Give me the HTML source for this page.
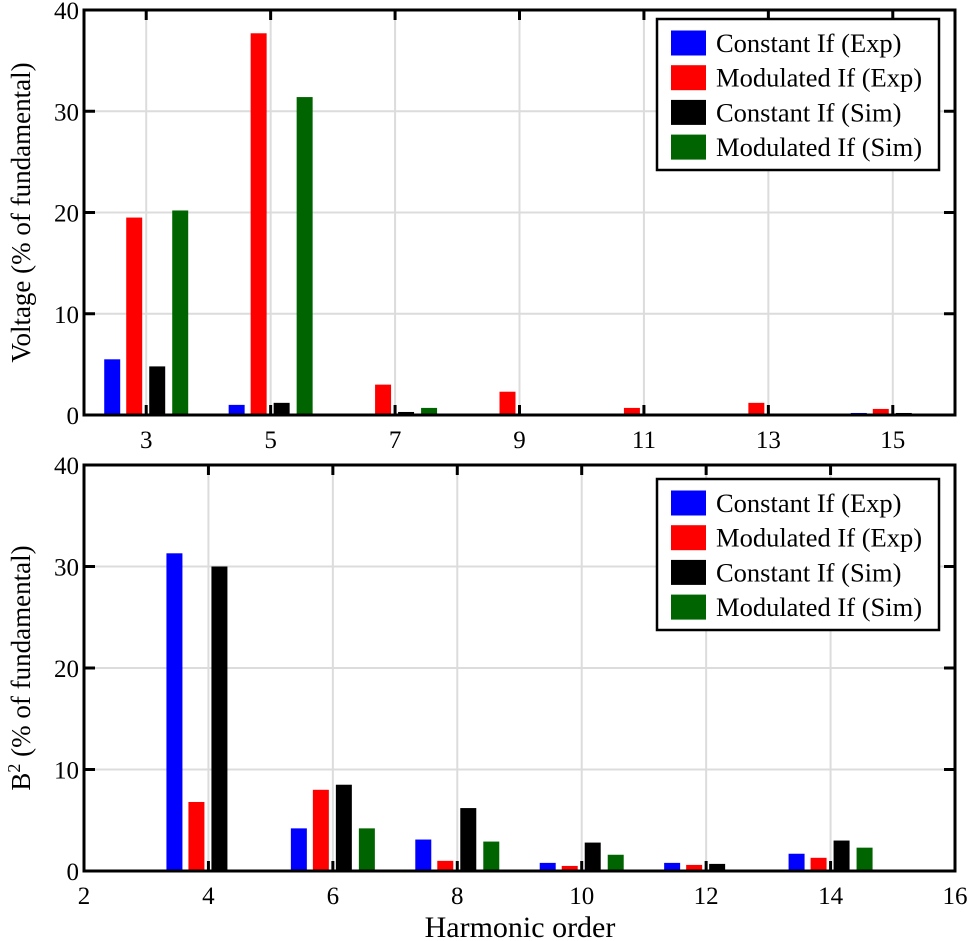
<!DOCTYPE html>
<html><head><meta charset="utf-8"><style>
html,body{margin:0;padding:0;background:#fff;}
svg{display:block;font-family:"Liberation Serif","DejaVu Serif",serif;}
</style></head><body>
<svg id="chart" width="969" height="941" viewBox="0 0 969 941" xmlns="http://www.w3.org/2000/svg" font-family="Liberation Serif, DejaVu Serif, serif"></svg>
<script>
const seriesNames = ["Constant If (Exp)", "Modulated If (Exp)", "Constant If (Sim)", "Modulated If (Sim)"];
const seriesColors = ["#0000ff", "#ff0000", "#000000", "#006400"];
const topHarmonics = [3, 5, 7, 9, 11, 13, 15];
const topConstExp = [5.5, 1.0, 0.1, 0.1, 0.1, 0.1, 0.2];
const topModExp = [19.5, 37.7, 3.0, 2.3, 0.7, 1.2, 0.6];
const topConstSim = [4.8, 1.2, 0.3, 0.1, 0.05, 0.1, 0.2];
const topModSim = [20.2, 31.4, 0.7, 0.1, 0.05, 0.1, 0.1];
const botHarmonics = [4, 6, 8, 10, 12, 14];
const botConstExp = [31.3, 4.2, 3.1, 0.8, 0.8, 1.7];
const botModExp = [6.8, 8.0, 1.0, 0.5, 0.6, 1.3];
const botConstSim = [30.0, 8.5, 6.2, 2.8, 0.7, 3.0];
const botModSim = [0.0, 4.2, 2.9, 1.6, 0.0, 2.3];
const topXTicks = [3, 5, 7, 9, 11, 13, 15];
const botXTicks = [2, 4, 6, 8, 10, 12, 14, 16];
const yTicks = [0, 10, 20, 30, 40];

const NS = "http://www.w3.org/2000/svg";
const FF = "Liberation Serif, DejaVu Serif, serif";
const svg = document.getElementById("chart");
function mk(tag, attrs, parent){const e=document.createElementNS(NS,tag);for(const k in attrs)e.setAttribute(k,attrs[k]);if(tag==="text")e.setAttribute("font-family",FF);(parent||svg).appendChild(e);return e;}

function drawPanel(cfg){
  const L=84,R=955,T=cfg.top,B=cfg.bottom;
  const x=v=>L+(v-2)/(16-2)*(R-L);
  const y=v=>B-(v/40)*(B-T);
  const g=mk("g",{});
  
  
  cfg.xticks.forEach(t=>{ if(t>2&&t<16){const l=mk("line",{x1:x(t),x2:x(t),y1:T,y2:B,stroke:"#dcdcdc","stroke-width":2},g);
    
    }});
  yTicks.forEach(t=>{ if(t>0&&t<40){const l=mk("line",{x1:L,x2:R,y1:y(t),y2:y(t),stroke:"#dcdcdc","stroke-width":2},g);
    
    }});
  const bw=0.257;
  const step=(R-L)/14;
  const offPx=[-34,-12,11,34].map(o=>o/step);
  cfg.series.forEach((vals,si)=>{
    vals.forEach((v,i)=>{
      const c=cfg.cats[i]+offPx[si];
      const x0=x(c-bw/2), x1=x(c+bw/2);
      const r=mk("rect",{x:x0,y:y(v),width:x1-x0,height:Math.max(0,B-y(v)),fill:seriesColors[si]},g);
      
      
    });
  });
  cfg.xticks.forEach(t=>{
    mk("line",{x1:x(t),x2:x(t),y1:B,y2:B-10,stroke:"#000","stroke-width":3},g);
    mk("line",{x1:x(t),x2:x(t),y1:T,y2:T+10,stroke:"#000","stroke-width":3},g);
    const tx=mk("text",{x:x(t),y:B+33,"font-size":25,"text-anchor":"middle",fill:"#000"},g);
    tx.textContent=t;
    
    
  });
  yTicks.forEach(t=>{
    mk("line",{x1:L,x2:L+11,y1:y(t),y2:y(t),stroke:"#000","stroke-width":3},g);
    mk("line",{x1:R,x2:R-11,y1:y(t),y2:y(t),stroke:"#000","stroke-width":3},g);
    const tx=mk("text",{x:L-5,y:y(t)+9,"font-size":25,"text-anchor":"end",fill:"#000"},g);
    tx.textContent=t;
    
    
  });
  const fr=mk("rect",{x:L,y:T,width:R-L,height:B-T,fill:"none",stroke:"#000","stroke-width":3},g);
  
  
  const yl=mk("text",{transform:`translate(30,${(T+B)/2}) rotate(-90)`,"font-size":27,"text-anchor":"middle",fill:"#000"},g);
  yl.innerHTML=cfg.ylabel;
  
  
  const lx=657, ly=cfg.legendTop;
  const lg=mk("g",{},g);
  
  
  mk("rect",{x:lx,y:ly,width:282,height:151,fill:"#fff",stroke:"#000","stroke-width":2.5},lg);
  seriesNames.forEach((n,i)=>{
    const cy=ly+24+i*34.7;
    const sw=mk("rect",{x:671,y:cy-12.5,width:35,height:25,fill:seriesColors[i]},lg);
    
    
    const tx=mk("text",{x:716,y:cy+9,"font-size":26.5,fill:"#000"},lg);
    tx.textContent=n;
    
    
  });
}
drawPanel({key:"top",name:"voltage-panel",top:10,bottom:415,cats:topHarmonics,series:[topConstExp,topModExp,topConstSim,topModSim],xticks:topXTicks,ylabel:"Voltage (% of fundamental)",legendTop:19});
drawPanel({key:"bot",name:"b2-panel",top:465,bottom:871,cats:botHarmonics,series:[botConstExp,botModExp,botConstSim,botModSim],xticks:botXTicks,ylabel:'B<tspan dy="-10" font-size="18">2</tspan><tspan dy="10"> (% of fundamental)</tspan>',legendTop:479});
const xl=mk("text",{x:520,y:937,"font-size":30,"text-anchor":"middle",fill:"#000"});
xl.textContent="Harmonic order";


</script>
</body></html>
